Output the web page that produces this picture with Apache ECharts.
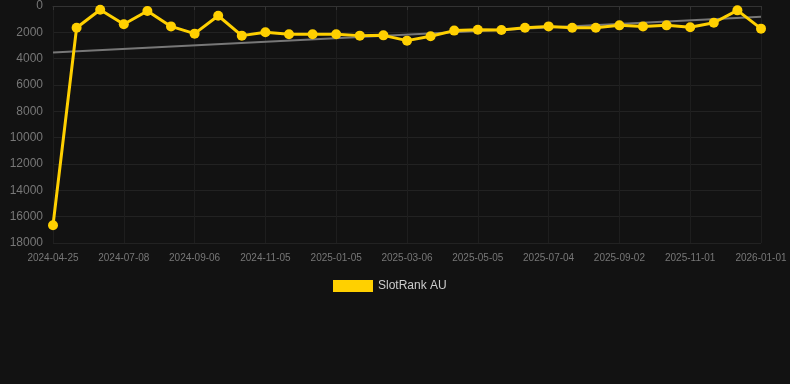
<!DOCTYPE html>
<html><head><meta charset="utf-8">
<script src="https://cdn.jsdelivr.net/npm/echarts@6/dist/echarts.min.js"></script>
<style>html,body{margin:0;padding:0;background:#121212;}#c{width:790px;height:384px;}</style>
</head><body><div id="c"></div>
<script>
const dates = ["2024-04-25","2024-05-20","2024-06-14","2024-07-08","2024-07-28","2024-08-17","2024-09-06","2024-09-26","2024-10-16","2024-11-05","2024-11-25","2024-12-15","2025-01-05","2025-01-25","2025-02-14","2025-03-06","2025-03-26","2025-04-15","2025-05-05","2025-05-25","2025-06-14","2025-07-04","2025-07-24","2025-08-13","2025-09-02","2025-09-22","2025-10-12","2025-11-01","2025-11-21","2025-12-11","2026-01-01"];
const rank = [16650,1650,280,1390,380,1550,2100,740,2250,2000,2150,2150,2150,2250,2230,2630,2300,1870,1800,1820,1650,1550,1650,1650,1470,1550,1470,1620,1270,330,1720];
const trendStart = 3530, trendEnd = 820;
const trend = dates.map((d,i)=> i===0 ? trendStart : (i===dates.length-1 ? trendEnd : null));
const yTicks = {min:0, max:18000, interval:2000};

const chart = echarts.init(document.getElementById('c'), null, {renderer:'canvas'});
chart.setOption({
  backgroundColor:'#121212',
  animation:false,
  grid:{left:53, right:29, top:6, bottom:141},
  legend:{
    data:[{name:'SlotRank AU', icon:'rect'}],
    bottom:87, left:328,
    itemWidth:40, itemHeight:12, itemGap:10,
    textStyle:{color:'#cccccc', fontSize:12, fontFamily:'Liberation Sans, Arial, sans-serif'}
  },
  xAxis:{
    type:'category', data:dates, boundaryGap:false,
    axisLine:{lineStyle:{color:'#333333'}},
    axisTick:{show:true, interval:2, length:4, lineStyle:{color:'#333333'}},
    axisLabel:{interval:2, color:'#777777', fontSize:10, margin:10, fontFamily:'Liberation Sans, Arial, sans-serif'},
    splitLine:{show:true, interval:2, lineStyle:{color:'#1e1e1e'}}
  },
  yAxis:{
    type:'value', inverse:true, min:yTicks.min, max:yTicks.max, interval:yTicks.interval,
    axisLine:{show:false}, axisTick:{show:false},
    axisLabel:{color:'#777777', fontSize:12, margin:10, fontFamily:'Liberation Sans, Arial, sans-serif', formatter:v=>String(v)},
    splitLine:{lineStyle:{color:'#222222'}}
  },
  series:[
    {name:'Trend', type:'line', data:trend, connectNulls:true, symbol:'none',
     lineStyle:{color:'#777777', width:2}, z:1, silent:true},
    {name:'SlotRank AU', type:'line', data:rank, symbol:'circle', symbolSize:10,
     itemStyle:{color:'#FFD000'}, lineStyle:{color:'#FFD000', width:3}, z:3}
  ]
});
</script></body></html>
